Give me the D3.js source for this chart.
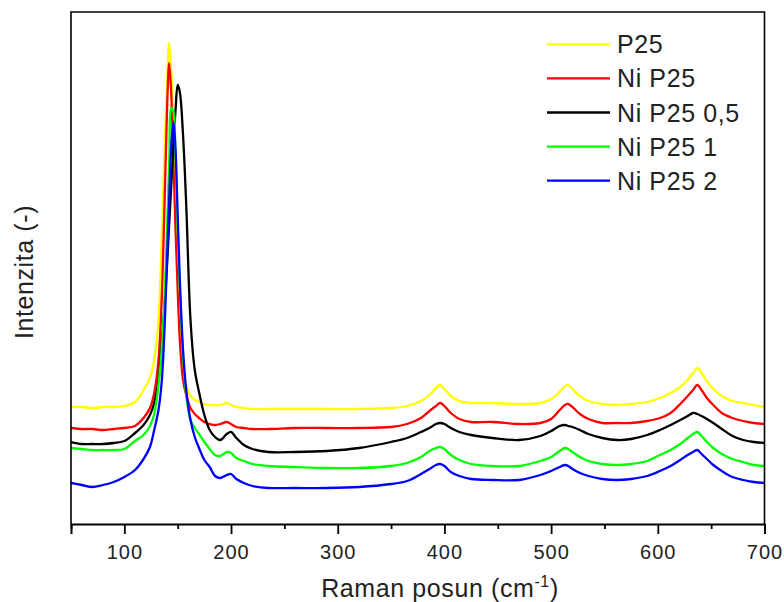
<!DOCTYPE html>
<html lang="cs">
<head>
  <meta charset="UTF-8">
  <title>Raman P25</title>
  <script src="https://d3js.org/d3.v7.min.js"></script>
  <style>
    html, body {
      margin: 0;
      background-color: #ffffff;
    }
    svg {
      display: block;
      font-family: Arial, "Liberation Sans", sans-serif;
    }
  </style>
</head>
<body>
  <div id="chart"></div>

  <script>
    // Raman shift (cm-1), shared by all series
    const shift = [50, 60, 70, 80, 90, 100, 110, 118, 124, 128, 132, 135, 138, 140, 142, 144, 146, 148, 150, 152,
      155, 158, 162, 166, 170, 175, 180, 185, 190, 196, 200, 205, 212, 220, 235, 260, 290, 320, 350, 365,
      378, 386, 392, 396, 400, 406, 414, 425, 445, 470, 490, 500, 508, 513, 516, 520, 527, 535, 548, 562,
      575, 590, 602, 612, 621, 628, 633, 637, 641, 646, 652, 660, 670, 680, 690, 700]

    // intensity (a.u.)
    const p25 = [117, 117, 116, 117, 117, 118, 122, 134, 146, 164, 204, 284, 384, 439, 481, 454, 394, 324, 254, 204,
      164, 139, 128, 124, 122, 120, 119, 119, 119, 121, 119, 117, 116, 115, 115, 115, 115, 115, 116, 118,
      123, 129, 136, 139, 135, 128, 123, 121, 121, 120, 121, 125, 132, 138, 139, 135, 128, 123, 120, 119,
      120, 122, 126, 131, 137, 144, 151, 156, 151, 143, 135, 128, 123, 121, 119, 117]
    const niP25 = [96, 95, 95, 94, 95, 96, 98, 106, 116, 131, 164, 224, 334, 414, 461, 429, 364, 294, 234, 184,
      144, 129, 116, 110, 106, 102, 100, 99, 100, 102, 100, 97, 96, 95, 95, 96, 96, 96, 97, 100,
      106, 113, 118, 121, 118, 111, 105, 102, 102, 100, 101, 105, 114, 119, 120, 117, 110, 105, 101, 101,
      101, 103, 106, 111, 120, 128, 134, 139, 134, 126, 119, 111, 106, 103, 101, 100]
    const niP25_05 = [82, 80, 80, 80, 81, 83, 91, 99, 109, 121, 144, 179, 224, 259, 299, 339, 379, 414, 439, 432,
      389, 319, 204, 154, 132, 109, 94, 87, 84, 90, 92, 86, 79, 75, 72, 72, 73, 76, 82, 86,
      92, 96, 100, 101, 100, 96, 92, 89, 86, 84, 88, 93, 98, 99, 98, 97, 94, 90, 86, 84,
      85, 89, 94, 99, 104, 108, 111, 110, 108, 105, 101, 95, 88, 84, 82, 81]
    const niP25_1 = [76, 75, 74, 74, 74, 75, 83, 89, 98, 110, 139, 174, 234, 294, 359, 416, 412, 364, 294, 234,
      169, 129, 104, 96, 90, 82, 75, 69, 68, 72, 71, 66, 63, 60, 58, 57, 56, 56, 58, 61,
      67, 73, 76, 77, 75, 69, 64, 60, 58, 58, 63, 67, 73, 76, 75, 72, 67, 63, 60, 59,
      60, 63, 69, 74, 80, 86, 90, 92, 88, 82, 76, 70, 65, 62, 59, 58]
    const niP25_2 = [41, 39, 37, 39, 42, 47, 54, 65, 77, 94, 114, 142, 204, 264, 324, 379, 402, 374, 309, 244,
      174, 134, 104, 87, 76, 64, 57, 48, 46, 49, 50, 45, 41, 38, 36, 36, 36, 37, 40, 43,
      50, 55, 59, 60, 58, 52, 48, 45, 44, 44, 49, 53, 57, 59, 58, 55, 51, 48, 45, 44,
      45, 48, 53, 58, 64, 69, 72, 74, 70, 65, 59, 53, 47, 44, 42, 41]

    const seriesNames = ['P25', 'Ni P25', 'Ni P25 0,5', 'Ni P25 1', 'Ni P25 2']
    const seriesValues = [p25, niP25, niP25_05, niP25_1, niP25_2]
    const seriesColors = ['#ffff00', '#ff0000', '#000000', '#00ff00', '#0000ff']

    const majorTicks = [100, 200, 300, 400, 500, 600, 700]
    const minorTicks = [50, 150, 250, 350, 450, 550, 650]

    const width = 784
    const height = 602
    const plotLeft = 71
    const plotRight = 764.5
    const plotTop = 12
    const plotBottom = 524

    const svg = d3.select('#chart').append('svg')
      .attr('width', width)
      .attr('height', height)

    const x = d3.scaleLinear().domain([50, 700]).range([plotLeft, plotRight])
    const y = d3.scaleLinear().domain([0, 512]).range([plotBottom, plotTop])

    svg.append('clipPath')
      .attr('id', 'plot-clip')
      .append('rect')
      .attr('x', plotLeft)
      .attr('y', plotTop)
      .attr('width', plotRight - plotLeft)
      .attr('height', plotBottom - plotTop)

    const line = d3.line()
      .x((d, i) => x(shift[i]))
      .y(d => y(d))
      .curve(d3.curveCatmullRom.alpha(0.5))

    svg.append('g')
      .attr('clip-path', 'url(#plot-clip)')
      .selectAll('path')
      .data(seriesValues)
      .enter()
      .append('path')
      .attr('d', d => line(d))
      .attr('fill', 'none')
      .attr('stroke', (d, i) => seriesColors[i])
      .attr('stroke-width', 2.3)
      .attr('stroke-linejoin', 'round')

    // frame
    svg.append('path')
      .attr('d', `M${plotLeft},${plotBottom}V${plotTop}H${plotRight}V${plotBottom}`)
      .attr('fill', 'none')
      .attr('stroke', '#000')
      .attr('stroke-width', 1.6)

    const xAxis = svg.append('g')
      .attr('transform', `translate(0,${plotBottom})`)
      .call(d3.axisBottom(x).tickValues(majorTicks).tickSize(10).tickPadding(11).tickFormat(d3.format('d')))
    xAxis.select('.domain').attr('stroke-width', 2)
    xAxis.selectAll('.tick line').attr('stroke-width', 1.8)
    xAxis.selectAll('.tick text')
      .attr('font-size', 20)
      .attr('font-family', 'Arial, "Liberation Sans", sans-serif')
      .style('letter-spacing', '1px')
      .attr('fill', '#222')

    const xMinor = svg.append('g')
      .attr('transform', `translate(0,${plotBottom})`)
      .call(d3.axisBottom(x).tickValues(minorTicks).tickSize(5).tickFormat(''))
    xMinor.select('.domain').remove()
    xMinor.selectAll('.tick line').attr('stroke-width', 1.8)

    // axis titles
    const xTitle = svg.append('text')
      .attr('x', 440)
      .attr('y', 597)
      .attr('text-anchor', 'middle')
      .attr('font-size', 25)
      .style('letter-spacing', '0.6px')
      .attr('fill', '#222')
    xTitle.append('tspan').text('Raman posun (cm')
    xTitle.append('tspan').text('-1').attr('font-size', 16).attr('dy', -10)
    xTitle.append('tspan').text(')').attr('dy', 10)

    svg.append('text')
      .attr('transform', 'translate(33,272) rotate(-90)')
      .attr('text-anchor', 'middle')
      .attr('font-size', 25)
      .style('letter-spacing', '0.6px')
      .attr('fill', '#222')
      .text('Intenzita (-)')

    // legend
    const legend = svg.append('g')
      .selectAll('g')
      .data(seriesNames)
      .enter()
      .append('g')
      .attr('transform', (d, i) => `translate(547,${44.3 + i * 34.1})`)

    legend.append('line')
      .attr('x1', 0)
      .attr('x2', 63)
      .attr('stroke', (d, i) => seriesColors[i])
      .attr('stroke-width', 2.3)

    legend.append('text')
      .attr('x', 70)
      .attr('y', 9)
      .attr('font-size', 25)
      .style('letter-spacing', '0.6px')
      .attr('fill', '#222')
      .text(d => d)
  </script>
</body>
</html>
